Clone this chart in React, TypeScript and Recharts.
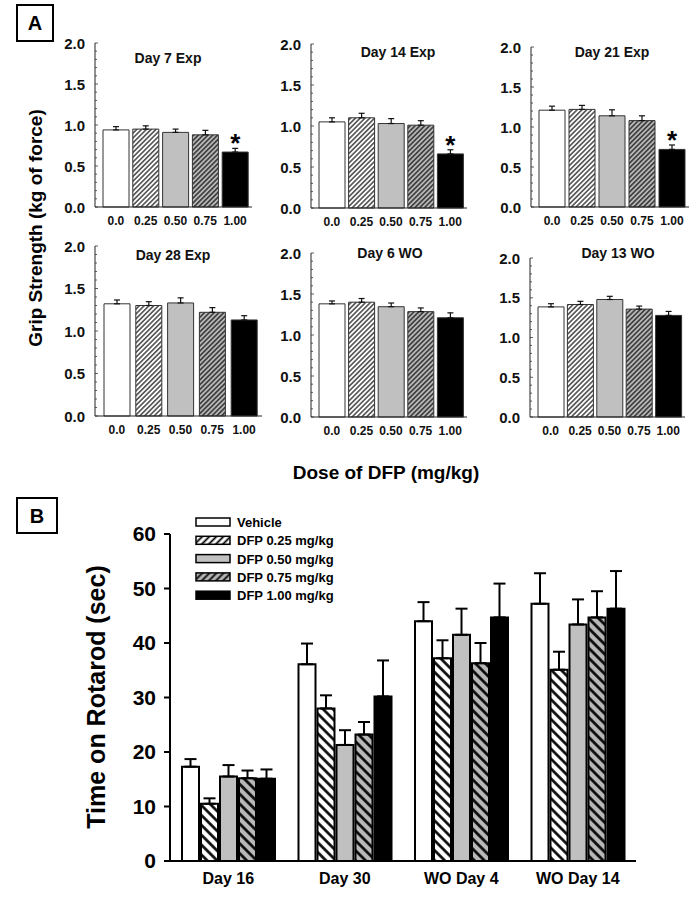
import { BarChart, Bar, XAxis, YAxis, ErrorBar, Cell, LabelList, Legend } from 'recharts';

const FONT = '"Liberation Sans", Arial, Helvetica, sans-serif';

// ---- Panel A: grip strength by dose ----
const doseLabels = ['0.0', '0.25', '0.50', '0.75', '1.00'];

const day7Exp = [0.94, 0.95, 0.91, 0.88, 0.67];
const day7ExpErr = [0.04, 0.04, 0.04, 0.055, 0.045];
const day14Exp = [1.05, 1.1, 1.03, 1.01, 0.66];
const day14ExpErr = [0.05, 0.055, 0.06, 0.055, 0.05];
const day21Exp = [1.21, 1.22, 1.14, 1.08, 0.72];
const day21ExpErr = [0.05, 0.05, 0.075, 0.06, 0.055];
const day28Exp = [1.32, 1.3, 1.33, 1.22, 1.13];
const day28ExpErr = [0.045, 0.045, 0.06, 0.055, 0.05];
const day6WO = [1.38, 1.4, 1.345, 1.285, 1.21];
const day6WOErr = [0.035, 0.045, 0.045, 0.045, 0.06];
const day13WO = [1.385, 1.415, 1.478, 1.357, 1.278];
const day13WOErr = [0.04, 0.04, 0.04, 0.038, 0.05];

const gripTicks = [0, 0.1, 0.2, 0.3, 0.4, 0.5, 0.6, 0.7, 0.8, 0.9, 1, 1.1, 1.2, 1.3, 1.4, 1.5, 1.6, 1.7, 1.8, 1.9, 2];
const gripFills = ['#ffffff', 'url(#hatchA)', '#c0c0c0', 'url(#hatchAGrey)', '#000000'];

// ---- Panel B: rotarod ----
const rotarodDays = ['Day 16', 'Day 30', 'WO Day 4', 'WO Day 14'];
const vehicle = [17.3, 36.1, 44.0, 47.2];
const vehicleErr = [1.4, 3.8, 3.5, 5.6];
const dfp025 = [10.5, 28.0, 37.2, 35.1];
const dfp025Err = [1.0, 2.4, 3.3, 3.3];
const dfp050 = [15.5, 21.3, 41.5, 43.4];
const dfp050Err = [2.1, 2.7, 4.8, 4.6];
const dfp075 = [15.2, 23.2, 36.3, 44.7];
const dfp075Err = [1.4, 2.3, 3.7, 4.8];
const dfp100 = [15.1, 30.2, 44.7, 46.3];
const dfp100Err = [1.7, 6.6, 6.2, 6.9];
const rotarodTicks = [0, 10, 20, 30, 40, 50, 60];

const rotarodSeries = [
  { key: 'vehicle', name: 'Vehicle', fill: '#ffffff', legendFill: '#ffffff' },
  { key: 'dfp025', name: 'DFP 0.25 mg/kg', fill: 'url(#hatchB)', legendFill: 'url(#hatchLeg)' },
  { key: 'dfp050', name: 'DFP 0.50 mg/kg', fill: '#c0c0c0', legendFill: '#c0c0c0' },
  { key: 'dfp075', name: 'DFP 0.75 mg/kg', fill: 'url(#hatchBGrey)', legendFill: 'url(#hatchLegGrey)' },
  { key: 'dfp100', name: 'DFP 1.00 mg/kg', fill: '#000000', legendFill: '#000000' },
];

const rotarodData = rotarodDays.map((day, i) => ({
  day,
  vehicle: vehicle[i], vehicleErr: [0, vehicleErr[i]],
  dfp025: dfp025[i], dfp025Err: [0, dfp025Err[i]],
  dfp050: dfp050[i], dfp050Err: [0, dfp050Err[i]],
  dfp075: dfp075[i], dfp075Err: [0, dfp075Err[i]],
  dfp100: dfp100[i], dfp100Err: [0, dfp100Err[i]],
}));

interface PanelSpec {
  title: string;
  values: number[];
  errs: number[];
  stars: number[];
  axisX: number;
  top: number;
  bottom: number;
  right: number;
  titleX: number;
  titleY: number;
}

// layout of the six small plots (axis x, top/bottom of the 0-2 range, right end, title centre)
const panels: PanelSpec[] = [
  { title: 'Day 7 Exp', values: day7Exp, errs: day7ExpErr, stars: [4], axisX: 95, top: 43, bottom: 207, right: 252, titleX: 168, titleY: 58 },
  { title: 'Day 14 Exp', values: day14Exp, errs: day14ExpErr, stars: [4], axisX: 311, top: 44, bottom: 208, right: 467, titleX: 398, titleY: 52 },
  { title: 'Day 21 Exp', values: day21Exp, errs: day21ExpErr, stars: [4], axisX: 531, top: 47, bottom: 207, right: 689, titleX: 612, titleY: 52 },
  { title: 'Day 28 Exp', values: day28Exp, errs: day28ExpErr, stars: [], axisX: 95, top: 246, bottom: 416, right: 262, titleX: 173, titleY: 255 },
  { title: 'Day 6 WO', values: day6WO, errs: day6WOErr, stars: [], axisX: 311, top: 253, bottom: 417, right: 467, titleX: 390, titleY: 253 },
  { title: 'Day 13 WO', values: day13WO, errs: day13WOErr, stars: [], axisX: 530, top: 258, bottom: 417, right: 685, titleX: 618, titleY: 253 },
];

const GRIP_TICK_MARGIN = 10;

function GripTick(props: any) {
  const { x, y, payload } = props;
  const v = payload.value as number;
  const major = Math.abs(v * 2 - Math.round(v * 2)) < 1e-6;
  const ax = x + GRIP_TICK_MARGIN;
  return (
    <g>
      <line x1={ax} y1={y} x2={ax + (major ? 3 : 2)} y2={y} stroke="#333" strokeWidth={0.8} />
      {major && (
        <text x={x} y={y} dy={5.5} textAnchor="end" fontSize={15} fontWeight={700} fill="#111">
          {v.toFixed(1)}
        </text>
      )}
    </g>
  );
}

function GripPanel({ p }: { p: PanelSpec }) {
  const data = doseLabels.map((dose, i) => ({
    dose,
    value: p.values[i],
    err: [0, p.errs[i]],
    star: p.stars.includes(i) ? '*' : '',
  }));
  const ml = 45;
  const mt = 12;
  const plotW = p.right - p.axisX;
  const plotH = p.bottom - p.top;
  const W = ml + plotW + 2;
  const H = mt + plotH + 24;

  const starLabel = (props: any) => {
    const { x, y, width, height, value, index } = props;
    if (!value) return null;
    const errPx = (p.errs[index] / p.values[index]) * height;
    return (
      <text x={x + width / 2} y={y - errPx + 4} textAnchor="middle" fontSize={26} fontWeight={700} fill="#000">
        *
      </text>
    );
  };

  return (
    <div style={{ position: 'absolute', left: p.axisX - ml, top: p.top - mt }}>
      <BarChart width={W} height={H} data={data} margin={{ top: mt, right: 2, left: 0, bottom: 0 }} barSize={26}>
        <XAxis
          dataKey="dose"
          height={24}
          interval={0}
          padding={{ left: 6, right: 2 }}
          tickLine={false}
          tickMargin={3}
          axisLine={{ stroke: '#222', strokeWidth: 1 }}
          tick={{ fontSize: 12, fontWeight: 700, fill: '#111' }}
        />
        <YAxis
          width={ml}
          domain={[0, 2]}
          ticks={gripTicks}
          interval={0}
          tickSize={0}
          tickMargin={GRIP_TICK_MARGIN}
          tickLine={false}
          axisLine={{ stroke: '#222', strokeWidth: 1 }}
          tick={<GripTick />}
        />
        <Bar dataKey="value" isAnimationActive={false} stroke="#333" strokeWidth={1}>
          {data.map((_, i) => (
            <Cell key={i} fill={gripFills[i]} />
          ))}
          <ErrorBar dataKey="err" width={3} stroke="#111" strokeWidth={1.2} />
          <LabelList dataKey="star" content={starLabel} />
        </Bar>
      </BarChart>
      <div
        style={{
          position: 'absolute',
          left: p.titleX - p.axisX + ml - 60,
          top: p.titleY - p.top + mt - 9,
          width: 120,
          textAlign: 'center',
          fontSize: 14,
          fontWeight: 700,
          lineHeight: '18px',
          color: '#111',
        }}
      >
        {p.title}
      </div>
    </div>
  );
}

function RotarodLegend() {
  return (
    <svg width={200} height={96}>
      {rotarodSeries.map((s, i) => (
        <g key={s.key} transform={`translate(0, ${9 + i * 18.3})`}>
          <rect x={1} y={-4} width={34} height={8} fill={s.legendFill} stroke="#000" strokeWidth={1.5} />
          <text x={42} y={5} fontSize={13} fontWeight={700} fill="#000">
            {s.name}
          </text>
        </g>
      ))}
    </svg>
  );
}

export default function App() {
  return (
    <div
      style={{
        position: 'absolute',
        left: 0,
        top: 0,
        width: 700,
        height: 899,
        background: '#fff',
        fontFamily: FONT,
        overflow: 'hidden',
      }}
    >
      <svg width={0} height={0} style={{ position: 'absolute' }}>
        <defs>
          <pattern id="hatchA" patternUnits="userSpaceOnUse" width={3.4} height={3.4} patternTransform="rotate(45)">
            <rect width={3.4} height={3.4} fill="#fff" />
            <line x1={1.7} y1={0} x2={1.7} y2={3.4} stroke="#000" strokeWidth={1.1} />
          </pattern>
          <pattern id="hatchAGrey" patternUnits="userSpaceOnUse" width={3.4} height={3.4} patternTransform="rotate(45)">
            <rect width={3.4} height={3.4} fill="#b8b8b8" />
            <line x1={1.7} y1={0} x2={1.7} y2={3.4} stroke="#000" strokeWidth={1.1} />
          </pattern>
          <pattern id="hatchB" patternUnits="userSpaceOnUse" width={7} height={7} patternTransform="rotate(-45)">
            <rect width={7} height={7} fill="#fff" />
            <line x1={3.5} y1={0} x2={3.5} y2={7} stroke="#000" strokeWidth={2.6} />
          </pattern>
          <pattern id="hatchBGrey" patternUnits="userSpaceOnUse" width={7} height={7} patternTransform="rotate(-45)">
            <rect width={7} height={7} fill="#b8b8b8" />
            <line x1={3.5} y1={0} x2={3.5} y2={7} stroke="#000" strokeWidth={2.6} />
          </pattern>
          <pattern id="hatchLeg" patternUnits="userSpaceOnUse" width={5} height={5} patternTransform="rotate(45)">
            <rect width={5} height={5} fill="#fff" />
            <line x1={2.5} y1={0} x2={2.5} y2={5} stroke="#000" strokeWidth={1.8} />
          </pattern>
          <pattern id="hatchLegGrey" patternUnits="userSpaceOnUse" width={5} height={5} patternTransform="rotate(45)">
            <rect width={5} height={5} fill="#b8b8b8" />
            <line x1={2.5} y1={0} x2={2.5} y2={5} stroke="#000" strokeWidth={1.8} />
          </pattern>
        </defs>
      </svg>

      {panels.map((p) => (
        <GripPanel key={p.title} p={p} />
      ))}

      <div style={{ position: 'absolute', left: 0, top: 490 }}>
        <BarChart
          width={700}
          height={409}
          data={rotarodData}
          margin={{ top: 44, right: 64, left: 0, bottom: 0 }}
          barSize={17}
          barGap={2}
        >
          <XAxis
            dataKey="day"
            height={38}
            interval={0}
            tickLine={false}
            tickMargin={6}
            axisLine={{ stroke: '#000', strokeWidth: 2 }}
            tick={{ fontSize: 16, fontWeight: 700, fill: '#000' }}
          />
          <YAxis
            width={170}
            domain={[0, 60]}
            ticks={rotarodTicks}
            interval={0}
            tickSize={6}
            tickMargin={8}
            axisLine={{ stroke: '#000', strokeWidth: 2 }}
            tickLine={{ stroke: '#000', strokeWidth: 2 }}
            tick={{ fontSize: 21, fontWeight: 700, fill: '#000' }}
          />
          {rotarodSeries.map((s) => (
            <Bar key={s.key} dataKey={s.key} name={s.name} fill={s.fill} stroke="#000" strokeWidth={2} isAnimationActive={false}>
              <ErrorBar dataKey={`${s.key}Err`} width={6} stroke="#000" strokeWidth={2} />
            </Bar>
          ))}
          <Legend
            layout="horizontal"
            verticalAlign="middle"
            align="center"
            content={RotarodLegend}
            wrapperStyle={{ left: 195, top: 23, width: 200, height: 96 }}
          />
        </BarChart>
      </div>

      <svg width={700} height={899} style={{ position: 'absolute', left: 0, top: 0, pointerEvents: 'none' }}>
        <rect x={17} y={5} width={36} height={36} fill="none" stroke="#000" strokeWidth={2} />
        <text x={35} y={30} textAnchor="middle" fontSize={20} fontWeight={700} fill="#000">A</text>
        <rect x={17} y={498} width={40} height={35} fill="none" stroke="#000" strokeWidth={2} />
        <text x={37} y={523} textAnchor="middle" fontSize={20} fontWeight={700} fill="#000">B</text>
        <text x={35} y={228} transform="rotate(-90, 35, 228)" textAnchor="middle" dy={7} fontSize={19} fontWeight={700} fill="#000">
          Grip Strength (kg of force)
        </text>
        <text x={386} y={479} textAnchor="middle" fontSize={19} fontWeight={700} fill="#000">
          Dose of DFP (mg/kg)
        </text>
        <text x={96} y={697} transform="rotate(-90, 96, 697)" textAnchor="middle" dy={9} fontSize={25} fontWeight={700} fill="#000">
          Time on Rotarod (sec)
        </text>
      </svg>
    </div>
  );
}
